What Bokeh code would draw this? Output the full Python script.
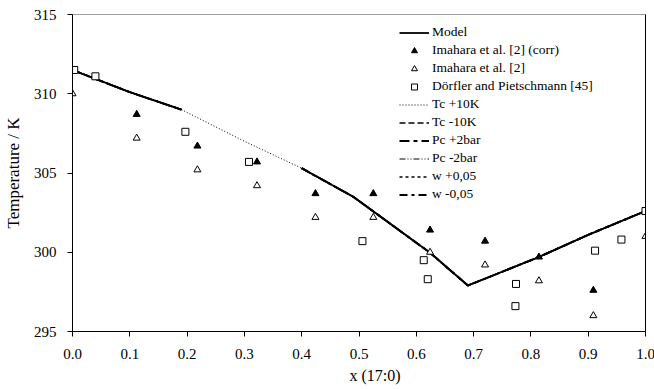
import numpy as np
from bokeh.plotting import figure
from bokeh.models import Legend, LegendItem, LinearAxis, Range1d, FixedTicker, ColumnDataSource, Title
from bokeh.embed import file_html
from bokeh.resources import INLINE

# ---- data ----
curve_x = [0.0, 0.1, 0.19, 0.3, 0.4, 0.49, 0.6, 0.623, 0.69, 0.814, 0.9, 1.0]
model_T = [311.5, 310.1, 309.0, np.nan, 305.3, 303.5, 300.6, 300.0, 297.9, 299.7, 301.1, 302.6]
tc_plus_T = [np.nan, np.nan, 309.0, 307.0, 305.3, np.nan, np.nan, np.nan, np.nan, np.nan, np.nan, np.nan]
other_T = model_T  # sensitivity curves coincide with the model

imahara_x = [0.0, 0.112, 0.218, 0.322, 0.424, 0.525, 0.624, 0.72, 0.814, 0.909, 1.0]
imahara_corr_T = [311.5, 308.7, 306.7, 305.7, 303.7, 303.7, 301.4, 300.7, 299.7, 297.6, 302.6]
imahara_T = [310.0, 307.2, 305.2, 304.2, 302.2, 302.2, 300.0, 299.2, 298.2, 296.0, 301.0]

dorfler_x = [0.003, 0.04, 0.197, 0.308, 0.506, 0.613, 0.62, 0.774, 0.773, 0.912, 0.958, 1.0]
dorfler_T = [311.5, 311.1, 307.6, 305.7, 300.7, 299.5, 298.3, 298.0, 296.6, 300.1, 300.8, 302.6]

x_ticks = [0.0, 0.1, 0.2, 0.3, 0.4, 0.5, 0.6, 0.7, 0.8, 0.9, 1.0]
y_ticks = [295, 300, 305, 310, 315]
x_title = "x (17:0)"
y_title = "Temperature / K"

FONT = "Liberation Serif"

p = figure(frame_width=573, frame_height=317, output_backend="svg", toolbar_location=None,
           x_range=Range1d(0, 1), y_range=Range1d(295, 315),
           min_border_left=61, min_border_right=11, min_border_top=14, min_border_bottom=20)
p.grid.visible = False
p.outline_line_color = "#a0a0a0"
p.background_fill_color = "white"

for ax in (p.xaxis[0], p.yaxis[0]):
    ax.axis_line_color = "black"
    ax.major_tick_line_color = "black"
    ax.minor_tick_line_color = None
    ax.major_tick_out = 5
    ax.major_tick_in = 0
    ax.major_label_text_font = FONT
    ax.major_label_text_font_size = "15px"
    ax.major_label_text_color = "black"
    ax.axis_label_text_font = FONT
    ax.axis_label_text_font_style = "normal"
    ax.axis_label_text_color = "black"

p.xaxis.ticker = FixedTicker(ticks=x_ticks)
p.xaxis.major_label_overrides = {t: f"{t:.1f}" for t in x_ticks}
p.yaxis.ticker = FixedTicker(ticks=y_ticks)
p.yaxis.axis_label = y_title
p.yaxis.axis_label_text_font_size = "17px"
p.xaxis.major_label_standoff = 12
p.yaxis.major_label_standoff = 11
p.yaxis.axis_label_standoff = 8

right = LinearAxis(axis_line_color="black", major_tick_line_color=None, minor_tick_line_color=None,
                   major_tick_out=0, major_label_standoff=0,
                   major_label_text_font_size="0px", ticker=FixedTicker(ticks=[]))
p.add_layout(right, "right")

p.add_layout(Title(text=x_title, align="left", offset=277, standoff=7,
                   text_font=FONT, text_font_size="16px", text_font_style="normal",
                   text_color="black"), "below")

src = ColumnDataSource(dict(x=curve_x, model=model_T, tcp=tc_plus_T, other=other_T))

r_tcm = p.line("x", "other", source=src, line_color="black", line_width=1.5, line_dash="6 3")
r_pcp = p.line("x", "other", source=src, line_color="black", line_width=2, line_dash="10 4 4 4")
r_pcm = p.line("x", "other", source=src, line_color="black", line_width=1, line_dash="6 2 1 2 1 2")
r_wp = p.line("x", "other", source=src, line_color="black", line_width=1.5, line_dash="3 3")
r_wm = p.line("x", "other", source=src, line_color="black", line_width=2, line_dash="8 4 3 4")
r_tcp = p.line("x", "tcp", source=src, line_color="black", line_width=1, line_dash="1 2")
r_model = p.line("x", "model", source=src, line_color="black", line_width=1.8)

r_ic = p.scatter(imahara_x, imahara_corr_T, marker="triangle", size=7,
                 fill_color="black", line_color="black")
r_i = p.scatter(imahara_x, imahara_T, marker="triangle", size=7,
                fill_color="white", line_color="black")
r_d = p.scatter(dorfler_x, dorfler_T, marker="square", size=7,
                fill_color="white", line_color="black")

legend = Legend(items=[
    LegendItem(label="Model", renderers=[r_model]),
    LegendItem(label="Imahara et al. [2] (corr)", renderers=[r_ic]),
    LegendItem(label="Imahara et al. [2]", renderers=[r_i]),
    LegendItem(label="Dörfler and Pietschmann [45]", renderers=[r_d]),
    LegendItem(label="Tc +10K", renderers=[r_tcp]),
    LegendItem(label="Tc -10K", renderers=[r_tcm]),
    LegendItem(label="Pc +2bar", renderers=[r_pcp]),
    LegendItem(label="Pc -2bar", renderers=[r_pcm]),
    LegendItem(label="w +0,05", renderers=[r_wp]),
    LegendItem(label="w -0,05", renderers=[r_wm]),
], location=(327, 129),
    background_fill_alpha=0, border_line_color=None, padding=0, margin=0, spacing=2,
    glyph_width=30, glyph_height=15, label_height=15, label_standoff=3,
    label_text_font=FONT, label_text_font_size="13.5px", label_text_color="black")
p.add_layout(legend, "center")

open("out.html", "w").write(file_html(p, INLINE))
